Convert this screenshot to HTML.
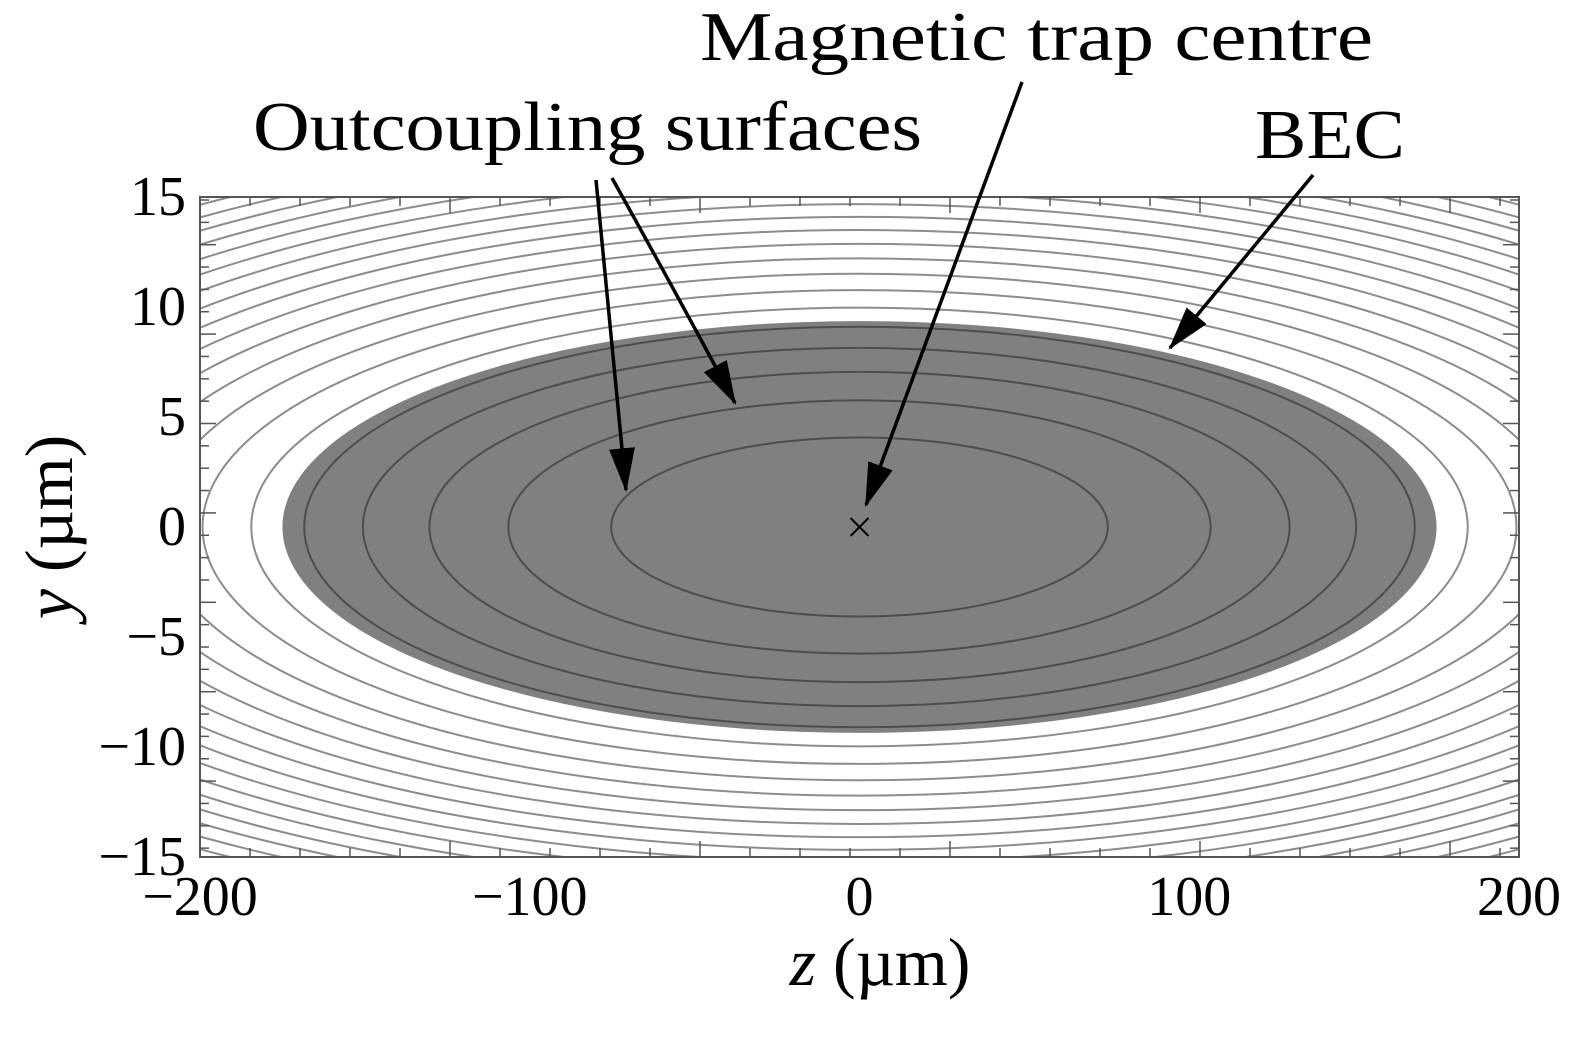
<!DOCTYPE html>
<html><head><meta charset="utf-8"><style>
html,body{margin:0;padding:0;background:#fff}
svg{display:block}
text{font-family:"Liberation Serif",serif;fill:#000}
</style></head><body>
<svg id="chart" width="1591" height="1037" viewBox="0 0 1591 1037" xmlns="http://www.w3.org/2000/svg">
<defs>
<clipPath id="plotclip"><rect x="200" y="197" width="1319" height="660"/></clipPath>
<marker id="ah" viewBox="0 0 10 10" preserveAspectRatio="none" refX="9.5" refY="5" markerWidth="44" markerHeight="26" markerUnits="userSpaceOnUse" orient="auto"><path d="M0,0 L10,5 L0,10 z" fill="#000"/></marker>
</defs>
<g id="plot" clip-path="url(#plotclip)"></g>
<g id="axes"></g>
<g id="annot"></g>
</svg>
<script>
// Data
const contourLevels = [1,2,3,4,5,6,7,8,9,10,11,12,13,14,15,16,17,18,19,20,21];
const contourA = 75.3;   // z semi-axis at level 1 (µm)
const contourB = 4.07;   // y semi-axis at level 1 (µm)
const becA = [175];      // BEC semi-axis z (µm)
const becB = [9.36];     // BEC semi-axis y (µm)
const innerCount = [5];
const xTickLabels = [-200,-100,0,100,200];
const yTickLabels = [15,10,5,0,-5,-10,-15];

const X0=200,X1=1519,Y0=197,Y1=857;
const xs = z => X0 + (z+200)/400*(X1-X0);
const ys = y => Y1 - (y+15)/30*(Y1-Y0);
const NS="http://www.w3.org/2000/svg";
function mk(tag, attrs, parent){const e=document.createElementNS(NS,tag);for(const k in attrs)e.setAttribute(k,attrs[k]);parent.appendChild(e);return e;}
const plot=document.getElementById('plot'), axes=document.getElementById('axes'), annot=document.getElementById('annot');

// BEC
const bec=mk('ellipse',{cx:xs(0),cy:ys(0),rx:xs(becA[0])-xs(0),ry:ys(0)-ys(becB[0]),fill:'#808080'},plot);



// contours
contourLevels.forEach((n,i)=>{
  const a=contourA*Math.sqrt(n), b=contourB*Math.sqrt(n);
  const inner = n<=innerCount[0];
  const e=mk('ellipse',{cx:xs(0),cy:ys(0),rx:xs(a)-xs(0),ry:ys(0)-ys(b),fill:'none',stroke:inner?'#4d4d4d':'#8c8c8c','stroke-width':2},plot);
  
  
});

// frame
const fr=mk('rect',{x:X0,y:Y0,width:X1-X0,height:Y1-Y0,fill:'none',stroke:'#555','stroke-width':2},axes);



// ticks
for(let k=0;X0+50*k<X1;k++){
  const x=X0+50*k, L=(k%5===0)?16:9;
  mk('line',{x1:x,y1:Y1,x2:x,y2:Y1-L,stroke:'#555','stroke-width':1.5},axes);
  mk('line',{x1:x,y1:Y0,x2:x,y2:Y0+L,stroke:'#555','stroke-width':1.5},axes);
}
for(let k=0;Y0+3+22.35*k<Y1;k++){
  const y=Y0+3+22.35*k, L=(k%4===2)?16:9;
  mk('line',{x1:X0,y1:y,x2:X0+L,y2:y,stroke:'#555','stroke-width':1.5},axes);
  mk('line',{x1:X1,y1:y,x2:X1-L,y2:y,stroke:'#555','stroke-width':1.5},axes);
}

// tick labels
xTickLabels.forEach(v=>{
  const t=mk('text',{x:xs(v),y:915,'font-size':56,'text-anchor':'middle'},axes);
  t.textContent=(v<0?'\u2212':'')+Math.abs(v);
  
  
});
yTickLabels.forEach(v=>{
  const t=mk('text',{x:186,y:ys(v)+18,'font-size':56,'text-anchor':'end'},axes);
  t.textContent=(v<0?'\u2212':'')+Math.abs(v);
  
  
});

// axis titles
const xt=mk('text',{x:880,y:985,'font-size':68,'text-anchor':'middle'},axes);
xt.innerHTML='<tspan font-style="italic">z</tspan> (µm)';


const yt=mk('text',{x:0,y:0,'font-size':68,'text-anchor':'middle',transform:'translate(72,527) rotate(-90)'},axes);
yt.innerHTML='<tspan font-style="italic">y</tspan> (µm)';



// centre marker
const cm=mk('path',{d:`M${xs(0)-9},${ys(0)-9} L${xs(0)+9},${ys(0)+9} M${xs(0)+9},${ys(0)-9} L${xs(0)-9},${ys(0)+9}`,stroke:'#000','stroke-width':2},annot);



// annotations
function label(txt,x,y,len,name){const t=mk('text',{x:x,y:y,'font-size':70,textLength:len,lengthAdjust:'spacingAndGlyphs'},annot);t.textContent=txt;}
label('Magnetic trap centre',700,60,673,'label-trap-centre');
label('Outcoupling surfaces',253,150,669,'label-outcoupling');
label('BEC',1255,158,150,'label-bec');
function arrow(d,name){const p=mk('path',{d:d,fill:'none',stroke:'#000','stroke-width':3.5,'marker-end':'url(#ah)'},annot);}
arrow('M596,180 L626,490','arrow-outcoupling-inner');
arrow('M612,178 Q680,300 735,403','arrow-outcoupling-outer');
arrow('M1022,82 L866,505','arrow-trap-centre');
arrow('M1313,175 L1170,348','arrow-bec');
</script>
</body></html>
